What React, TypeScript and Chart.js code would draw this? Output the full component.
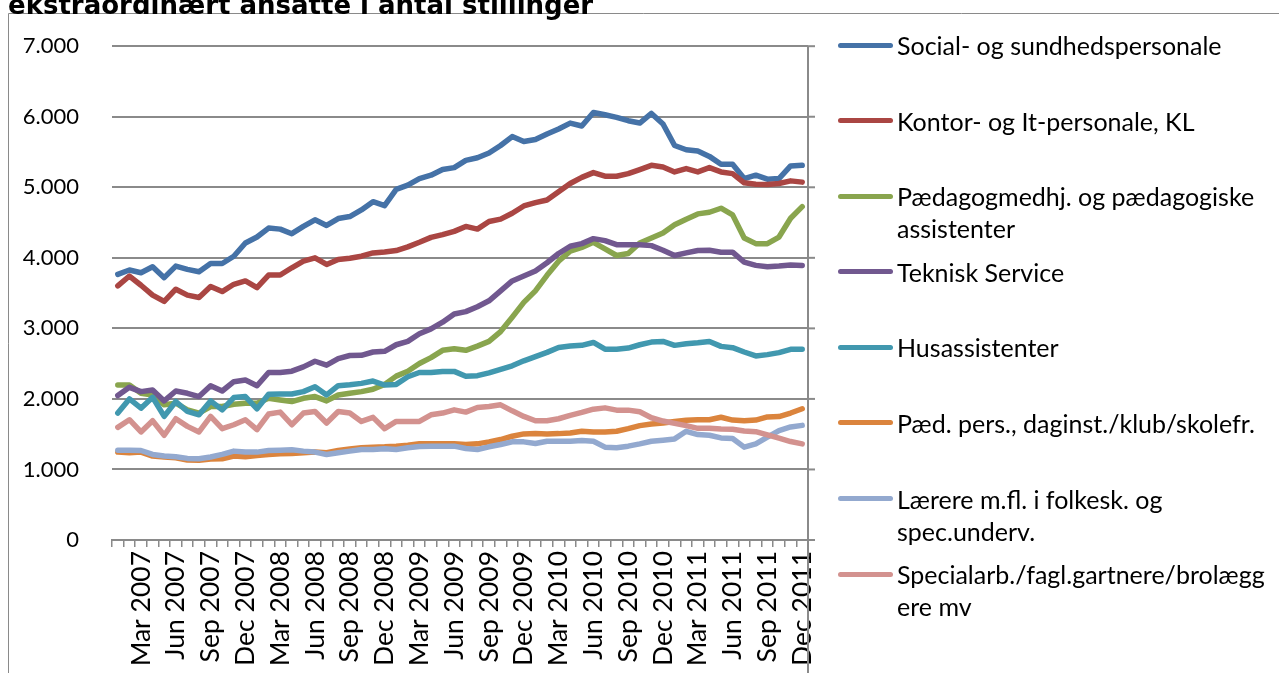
import React, { useEffect, useRef } from "react";
import { Chart, registerables } from "chart.js";

Chart.register(...registerables);

const months: string[] = [
  "Jan 2007", "Feb 2007", "Mar 2007", "Apr 2007", "May 2007", "Jun 2007", "Jul 2007", "Aug 2007", "Sep 2007", "Oct 2007", "Nov 2007", "Dec 2007",
  "Jan 2008", "Feb 2008", "Mar 2008", "Apr 2008", "May 2008", "Jun 2008", "Jul 2008", "Aug 2008", "Sep 2008", "Oct 2008", "Nov 2008", "Dec 2008",
  "Jan 2009", "Feb 2009", "Mar 2009", "Apr 2009", "May 2009", "Jun 2009", "Jul 2009", "Aug 2009", "Sep 2009", "Oct 2009", "Nov 2009", "Dec 2009",
  "Jan 2010", "Feb 2010", "Mar 2010", "Apr 2010", "May 2010", "Jun 2010", "Jul 2010", "Aug 2010", "Sep 2010", "Oct 2010", "Nov 2010", "Dec 2010",
  "Jan 2011", "Feb 2011", "Mar 2011", "Apr 2011", "May 2011", "Jun 2011", "Jul 2011", "Aug 2011", "Sep 2011", "Oct 2011", "Nov 2011", "Dec 2011",
];

const socialSundhed: number[] = [
  3766, 3827, 3789, 3873, 3719, 3883, 3836, 3803, 3920, 3920, 4023, 4211,
  4295, 4422, 4407, 4342, 4445, 4539, 4459, 4557, 4585, 4679, 4796, 4740,
  4970, 5030, 5124, 5171, 5251, 5279, 5382, 5419, 5485, 5593, 5719, 5649,
  5677, 5756, 5827, 5910, 5869, 6061, 6028, 5991, 5944, 5911, 6047, 5897,
  5593, 5532, 5513, 5438, 5326, 5326, 5124, 5171, 5115, 5124, 5302, 5311,
];

const kontorIt: number[] = [
  3602, 3742, 3611, 3471, 3382, 3555, 3471, 3438, 3593, 3522, 3625, 3672,
  3578, 3756, 3756, 3859, 3953, 4000, 3906, 3977, 3995, 4023, 4070, 4084,
  4103, 4155, 4220, 4290, 4328, 4375, 4445, 4407, 4515, 4548, 4632, 4735,
  4782, 4820, 4937, 5054, 5140, 5208, 5157, 5157, 5194, 5251, 5311, 5288,
  5218, 5265, 5218, 5279, 5218, 5194, 5063, 5044, 5040, 5054, 5091, 5073,
];

const paedagogmedhj: number[] = [
  2197, 2197, 2080, 2056, 1916, 1939, 1845, 1799, 1892, 1892, 1925, 1939,
  1939, 2009, 1986, 1963, 2009, 2033, 1972, 2056, 2080, 2103, 2136, 2206,
  2323, 2393, 2501, 2585, 2689, 2712, 2689, 2749, 2815, 2955, 3157, 3368,
  3532, 3752, 3953, 4094, 4148, 4220, 4126, 4033, 4061, 4211, 4281, 4351,
  4468, 4548, 4623, 4646, 4703, 4609, 4281, 4201, 4201, 4295, 4562, 4726,
];

const tekniskService: number[] = [
  2047, 2164, 2103, 2127, 1972, 2112, 2080, 2033, 2187, 2112, 2244, 2267,
  2187, 2375, 2375, 2393, 2454, 2534, 2478, 2571, 2615, 2618, 2665, 2675,
  2768, 2815, 2923, 2993, 3087, 3204, 3237, 3307, 3391, 3532, 3672, 3742,
  3813, 3930, 4061, 4164, 4201, 4272, 4244, 4187, 4187, 4187, 4173, 4108,
  4033, 4070, 4103, 4108, 4080, 4080, 3940, 3893, 3874, 3883, 3897, 3893,
];

const husassistenter: number[] = [
  1799, 2000, 1869, 2023, 1752, 1963, 1822, 1775, 1972, 1845, 2019, 2033,
  1859, 2065, 2070, 2070, 2103, 2173, 2056, 2187, 2200, 2220, 2253, 2197,
  2206, 2314, 2375, 2375, 2390, 2390, 2320, 2330, 2370, 2420, 2470, 2540,
  2600, 2660, 2730, 2750, 2760, 2800, 2705, 2703, 2721, 2768, 2806, 2815,
  2759, 2782, 2796, 2815, 2745, 2726, 2665, 2609, 2628, 2656, 2703, 2703,
];

const paedPers: number[] = [
  1246, 1237, 1246, 1190, 1176, 1166, 1133, 1129, 1148, 1152, 1190, 1180,
  1199, 1213, 1222, 1227, 1237, 1246, 1237, 1269, 1290, 1307, 1316, 1321,
  1330, 1344, 1363, 1363, 1363, 1363, 1354, 1363, 1391, 1424, 1471, 1504,
  1508, 1504, 1508, 1518, 1541, 1532, 1532, 1541, 1578, 1621, 1644, 1658,
  1681, 1696, 1705, 1705, 1740, 1700, 1690, 1700, 1745, 1750, 1800, 1860,
];

const laerere: number[] = [
  1274, 1274, 1269, 1213, 1190, 1180, 1157, 1152, 1176, 1213, 1260, 1246,
  1246, 1269, 1274, 1279, 1260, 1246, 1213, 1237, 1260, 1283, 1283, 1293,
  1283, 1307, 1325, 1330, 1330, 1330, 1297, 1283, 1321, 1354, 1391, 1391,
  1368, 1400, 1400, 1400, 1410, 1400, 1316, 1307, 1330, 1363, 1400, 1415,
  1433, 1541, 1494, 1485, 1447, 1438, 1316, 1363, 1457, 1551, 1602, 1625,
];

const specialarb: number[] = [
  1597, 1705, 1532, 1691, 1485, 1719, 1611, 1532, 1752, 1578, 1634, 1705,
  1564, 1785, 1813, 1634, 1799, 1822, 1658, 1822, 1799, 1681, 1738, 1578,
  1681, 1681, 1681, 1775, 1799, 1845, 1813, 1878, 1892, 1916, 1831, 1752,
  1691, 1691, 1719, 1766, 1808, 1855, 1873, 1841, 1841, 1817, 1733, 1686,
  1653, 1621, 1583, 1583, 1574, 1569, 1546, 1536, 1489, 1443, 1396, 1363,
];

const seriesNames: string[] = [
  "Social- og sundhedspersonale",
  "Kontor- og It-personale, KL",
  "Pædagogmedhj. og pædagogiske assistenter",
  "Teknisk Service",
  "Husassistenter",
  "Pæd. pers., daginst./klub/skolefr.",
  "Lærere m.fl. i folkesk. og spec.underv.",
  "Specialarb./fagl.gartnere/brolæggere mv",
];

const legendLines: string[][] = [
  ["Social- og sundhedspersonale"],
  ["Kontor- og It-personale, KL"],
  ["Pædagogmedhj. og pædagogiske", "assistenter"],
  ["Teknisk Service"],
  ["Husassistenter"],
  ["Pæd. pers., daginst./klub/skolefr."],
  ["Lærere m.fl. i folkesk. og", "spec.underv."],
  ["Specialarb./fagl.gartnere/brolægg", "ere mv"],
];

const seriesValues: number[][] = [
  socialSundhed, kontorIt, paedagogmedhj, tekniskService,
  husassistenter, paedPers, laerere, specialarb,
];

const colors: string[] = [
  "#4572A7", "#AA4643", "#89A54E", "#71588F",
  "#4198AF", "#DB843D", "#93A9CF", "#D3928F",
];

const titleText = "ekstraordinært ansatte i antal stillinger";
const yMax = 7000;
const yStep = 1000;

const W = 1279;
const H = 673;
const PLOT_RIGHT = 808;
const PLOT_LEFT = 112;
const PLOT_TOP = 42;
const PLOT_BOTTOM = 540;
const AXIS_COLOR = "#8a8a8a";
const FONT = "Lato, 'Open Sans', sans-serif";

function fmt(v: number): string {
  return String(v).replace(/\B(?=(\d{3})+(?!\d))/g, ".");
}

const framePlugin = {
  id: "frame",
  afterDraw(chart: any) {
    const ctx = chart.ctx;
    const y = chart.scales.y;
    ctx.save();
    ctx.strokeStyle = AXIS_COLOR;
    ctx.lineWidth = 1;
    ctx.beginPath();
    ctx.moveTo(8.5, H);
    ctx.lineTo(8.5, 13.5);
    ctx.lineTo(W, 13.5);
    ctx.stroke();
    ctx.lineWidth = 2;
    const rx = chart.chartArea.right;
    ctx.beginPath();
    ctx.moveTo(rx, chart.chartArea.top);
    ctx.lineTo(rx, H);
    ctx.stroke();
    for (let v = 0; v <= yMax; v += yStep) {
      const py = y.getPixelForValue(v);
      ctx.beginPath();
      ctx.moveTo(rx, py);
      ctx.lineTo(rx + 7, py);
      ctx.stroke();
    }
    ctx.restore();
  },
};

export default function App() {
  const canvasRef = useRef<HTMLCanvasElement>(null);

  useEffect(() => {
    if (!canvasRef.current) return;
    const chart = new Chart(canvasRef.current, {
      type: "line",
      data: {
        labels: months,
        datasets: seriesValues.map((vals, i) => ({
          label: seriesNames[i],
          data: vals,
          borderColor: colors[i],
          backgroundColor: colors[i],
          borderWidth: 5.5,
          pointRadius: 0,
          tension: 0,
          fill: false,
          order: -i,
          borderJoinStyle: "round" as const,
          borderCapStyle: "round" as const,
        })),
      },
      options: {
        animation: false,
        responsive: false,
        maintainAspectRatio: false,
        layout: { padding: { left: 0, right: W - PLOT_RIGHT, top: PLOT_TOP, bottom: 0 } },
        plugins: {
          legend: { display: false },
          tooltip: { enabled: false },
          title: { display: false },
        },
        scales: {
          x: {
            type: "category",
            offset: true,
            grid: {
              offset: true,
              drawOnChartArea: false,
              drawTicks: true,
              tickLength: 7,
              color: AXIS_COLOR,
              lineWidth: 1.5,
            },
            border: { display: true, color: AXIS_COLOR, width: 2 },
            ticks: {
              autoSkip: false,
              maxRotation: 90,
              minRotation: 90,
              padding: 4,
              color: "#000",
              font: { family: FONT, size: 26.5 },
              callback: (_v: any, i: number) => (i % 3 === 2 ? months[i] : ""),
            },
            afterFit: (s: any) => {
              s.height = H - PLOT_BOTTOM;
            },
          },
          y: {
            min: 0,
            max: yMax,
            grid: {
              drawTicks: false,
              color: AXIS_COLOR,
              lineWidth: 2,
            },
            border: { display: false },
            ticks: {
              stepSize: yStep,
              padding: 33,
              color: "#000",
              font: { family: FONT, size: 22 },
              callback: (v: any) => fmt(Number(v)),
            },
            afterFit: (s: any) => {
              s.width = PLOT_LEFT;
            },
          },
        },
      },
      plugins: [framePlugin],
    });
    return () => chart.destroy();
  }, []);

  return (
    <div
      style={{
        position: "absolute",
        left: 0,
        top: 0,
        width: W,
        height: H,
        overflow: "hidden",
        background: "#fff",
      }}
    >
      <canvas
        ref={canvasRef}
        width={W}
        height={H}
        style={{ position: "absolute", left: 0, top: 0, width: W, height: H, display: "block" }}
      />
      <div
        style={{
          position: "absolute",
          left: 8,
          top: -8,
          fontFamily: "'DejaVu Sans', Verdana, sans-serif",
          fontWeight: "bold",
          fontSize: 26,
          lineHeight: "26px",
          whiteSpace: "nowrap",
          color: "#000",
        }}
      >
        {titleText}
      </div>
      <div style={{ position: "absolute", left: 838, top: 29, width: 440 }}>
        {legendLines.map((lines, i) => (
          <div
            key={i}
            style={{ position: "relative", height: 75.6, display: "flex", alignItems: "flex-start" }}
          >
            <div
              style={{
                width: 55,
                height: 5,
                marginTop: 13.5,
                borderRadius: 3,
                background: colors[i],
                flex: "0 0 auto",
              }}
            />
            <div
              style={{
                marginLeft: 4,
                fontFamily: FONT,
                fontSize: 25,
                lineHeight: "32px",
                color: "#000",
                whiteSpace: "nowrap",
              }}
            >
              {lines.map((l, j) => (
                <div key={j}>{l}</div>
              ))}
            </div>
          </div>
        ))}
      </div>
    </div>
  );
}
